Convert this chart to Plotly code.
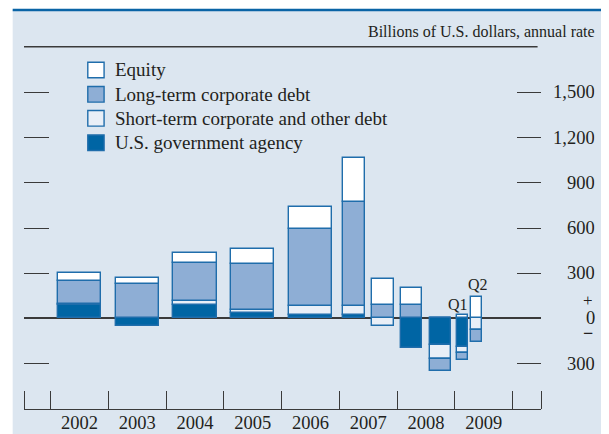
import plotly.graph_objects as go

# ---- data -------------------------------------------------------------
period_year = [2002, 2003, 2004, 2005, 2006, 2007, 2007, 2008, 2008, 2009, 2009]
period_index = [0, 0, 0, 0, 0, 0, 1, 0, 1, 0, 1]
periods_per_year = [1, 1, 1, 1, 1, 2, 2, 2, 2, 4, 4]
period_note = ["", "", "", "", "", "", "", "", "", "Q1", "Q2"]

agency = [88, -51, 90, 37, 23, 25, 0, -194, -176, -189, 0]
short_term = [10, 2, 26, 17, 58, 60, -50, 0, -93, -42, -76]
long_term = [149, 227, 254, 310, 515, 688, 91, 88, -80, -47, -80]
equity = [57, 38, 63, 95, 142, 290, 168, 117, 0, 23, 143]

year_labels = ["2002", "2003", "2004", "2005", "2006", "2007", "2008", "2009"]
y_ticks = [-300, 0, 300, 600, 900, 1200, 1500]
y_tick_text = ["300", "0", "300", "600", "900", "1,200", "1,500"]

# ---- styling ----------------------------------------------------------
BG = "#dce6f0"
INK = "#231f20"
EDGE = "#1f6dab"
FONT = "Liberation Serif"

x_pos = [y + (i + 0.5) / n for y, i, n in zip(period_year, period_index, periods_per_year)]
widths = [0.75 / n for n in periods_per_year]

series = [
    ("U.S. government agency", agency, "#0065a4"),
    ("Short-term corporate and other debt", short_term, "#e9eff7"),
    ("Long-term corporate debt", long_term, "#8eaed5"),
    ("Equity", equity, "#ffffff"),
]

fig = go.Figure()
for name, vals, col in series:
    fig.add_trace(go.Bar(
        x=x_pos, y=vals, width=widths, name=name,
        marker=dict(color=col, line=dict(color=EDGE, width=1.4)),
        hoverinfo="skip", showlegend=False,
    ))

# invisible anchor for the mirrored right-hand axis
fig.add_trace(go.Scatter(x=[x_pos[0]], y=[0], yaxis="y2", mode="markers",
                         marker=dict(opacity=0), showlegend=False, hoverinfo="skip"))

year_starts = sorted(set(period_year)) + [max(period_year) + 1]
x_range = [2001.54, 2010.49]

annotations = []
shapes = [
    # white outer margins
    dict(type="rect", xref="paper", yref="paper", x0=-0.06, x1=-0.0219, y0=-0.2, y1=1.2,
         fillcolor="white", line=dict(width=0), layer="below"),
    dict(type="rect", xref="paper", yref="paper", x0=-0.06, x1=1.2, y0=1.1022, y1=1.2,
         fillcolor="white", line=dict(width=0), layer="below"),
    # top blue rule
    dict(type="line", xref="paper", yref="paper", x0=-0.0219, x1=1.2, y0=1.1022, y1=1.1022,
         line=dict(color="#0a64a6", width=2.5)),
    # rule under unit label
    dict(type="line", xref="paper", yref="paper", x0=0, x1=0.9934, y0=1.0008, y1=1.0008,
         line=dict(color="#3a3a3a", width=1.5)),
]

# legend (drawn manually: 16px swatches, 24px rows)
legend_rows = [0.9365, 0.8693, 0.8030, 0.7356]
for (name, vals, col), yc in zip(reversed(series), legend_rows):
    shapes.append(dict(type="rect", xref="paper", yref="paper",
                       x0=0.1234, x1=0.1549, y0=yc - 0.0215, y1=yc + 0.0215,
                       fillcolor=col, line=dict(color=EDGE, width=1.4)))
    annotations.append(dict(x=0.1717, xref="paper", y=yc, yref="paper", text=name,
                            xanchor="left", yanchor="middle", showarrow=False,
                            font=dict(family=FONT, size=19, color=INK)))

# right-hand value labels
for v, t in zip(y_ticks, y_tick_text):
    annotations.append(dict(x=1.1085, xref="paper", y=v, yref="y", text=t,
                            xanchor="right", yanchor="middle", showarrow=False,
                            height=18, valign="middle",
                            font=dict(family=FONT, size=18.5, color=INK)))
annotations.append(dict(x=1.0905, xref="paper", y=0, yref="y", text="+", yshift=17.5,
                        height=11, valign="middle",
                        xanchor="center", yanchor="middle", showarrow=False,
                        font=dict(family=FONT, size=17, color=INK)))
annotations.append(dict(x=1.0915, xref="paper", y=0, yref="y", text="<b>−</b>", yshift=-14.5,
                        height=6, valign="middle",
                        xanchor="center", yanchor="middle", showarrow=False,
                        font=dict(family=FONT, size=18, color=INK)))
# unit label
annotations.append(dict(x=1.1085, xref="paper", y=1.0423, yref="paper",
                        text="Billions of U.S. dollars, annual rate",
                        xanchor="right", yanchor="middle", showarrow=False,
                        font=dict(family=FONT, size=16, color=INK)))
# quarter notes
for k, (xp, w, note, vals) in enumerate(zip(x_pos, widths, period_note,
                                            zip(agency, short_term, long_term, equity))):
    if note:
        top = sum(v for v in vals if v > 0)
        first = note == "Q1"
        annotations.append(dict(x=xp + (w / 2 if first else -w / 2), y=top,
                                xref="x", yref="y", text=note,
                                xanchor="right" if first else "left",
                                xshift=2 if first else -5,
                                yanchor="bottom", yshift=0 if first else 2,
                                showarrow=False,
                                font=dict(family=FONT, size=16, color=INK)))

fig.update_layout(
    width=601, height=426,
    margin=dict(l=16.3, r=68.3, t=39, b=25, pad=0, autoexpand=False),
    paper_bgcolor=BG, plot_bgcolor=BG,
    barmode="relative", bargap=0,
    font=dict(family=FONT, color=INK),
    showlegend=False,
    xaxis=dict(range=x_range, showgrid=False, zeroline=False, automargin=False,
               showline=True, linecolor="#3a3a3a", linewidth=1.4,
               tickmode="array",
               tickvals=[y + 0.5 for y in year_starts[:-1]],
               ticktext=year_labels, ticks="", ticklabelstandoff=-3,
               tickfont=dict(family=FONT, size=18.5, color=INK),
               minor=dict(tickmode="array",
                          tickvals=[x_range[0]] + year_starts + [x_range[1]],
                          ticks="inside", ticklen=18, tickwidth=1.3, tickcolor="#3a3a3a",
                          showgrid=False),
               fixedrange=True),
    yaxis=dict(range=[-601, 1802], showgrid=False, showticklabels=False, automargin=False,
               tickmode="array", tickvals=y_ticks, ticks="inside", ticklen=25,
               tickwidth=1.3, tickcolor="#3a3a3a",
               zeroline=True, zerolinecolor="#3a3a3a", zerolinewidth=1.6,
               showline=False, fixedrange=True),
    yaxis2=dict(overlaying="y", side="right", matches="y", showgrid=False, automargin=False,
                showticklabels=False, tickmode="array", tickvals=y_ticks,
                ticks="inside", ticklen=24, tickwidth=1.3, tickcolor="#3a3a3a",
                zeroline=False, showline=False, fixedrange=True),
    annotations=annotations,
    shapes=shapes,
)

fig.write_html("out.html")
